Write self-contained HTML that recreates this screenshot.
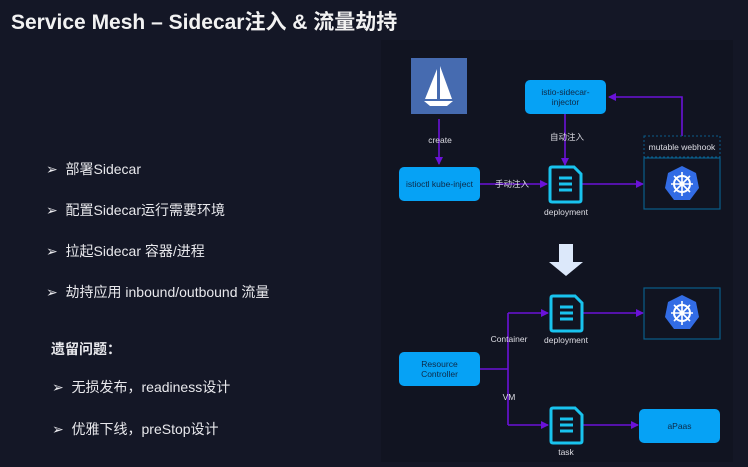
<!DOCTYPE html>
<html><head><meta charset="utf-8"><style>
html,body{margin:0;padding:0;}
body{width:748px;height:467px;background:#141726;position:relative;overflow:hidden;font-family:"Liberation Sans","Noto Sans CJK SC",sans-serif;color:#e8e8ec;}
.t{position:absolute;white-space:nowrap;}
.l{font-size:14px;}
</style></head><body>
<div class="t" style="left:11px;top:6px;font-size:21px;font-weight:bold;color:#f2f2f2;">Service Mesh – Sidecar注入 &amp; 流量劫持</div>
<div style="position:absolute;left:381px;top:40px;width:352px;height:422px;background:#111421;"></div>
<div class="t l" style="left:46px;top:159px;">➢&nbsp; 部署Sidecar</div>
<div class="t l" style="left:46px;top:200px;">➢&nbsp; 配置Sidecar运行需要环境</div>
<div class="t l" style="left:46px;top:241px;">➢&nbsp; 拉起Sidecar 容器/进程</div>
<div class="t l" style="left:46px;top:282px;">➢&nbsp; 劫持应用 inbound/outbound 流量</div>
<div class="t l" style="left:51px;top:339px;font-weight:bold;">遗留问题：</div>
<div class="t l" style="left:52px;top:377px;">➢&nbsp; 无损发布，readiness设计</div>
<div class="t l" style="left:52px;top:419px;">➢&nbsp; 优雅下线，preStop设计</div>
<svg style="position:absolute;left:0;top:0" width="748" height="467" font-family="Liberation Sans, Noto Sans CJK SC, sans-serif">
<defs>
<marker id="a" markerWidth="8" markerHeight="8" refX="7" refY="4" orient="auto" markerUnits="userSpaceOnUse"><path d="M0,0 L8,4 L0,8 Z" fill="#6a12d8"/></marker>
<g id="doc"><path d="M2,0 H24 L31,7 V33 Q31,35 29,35 H2 Q0,35 0,33 V2 Q0,0 2,0 Z" fill="#111421" stroke="#19c3ee" stroke-width="3"/><path d="M9,11 H22 M9,17 H22 M9,23 H22" stroke="#19c3ee" stroke-width="3"/></g>
<g id="k8s"><polygon points="0,-18 14,-11 17,4 8,16 -8,16 -17,4 -14,-11" fill="#326ce5"/><circle r="8" fill="none" stroke="#fff" stroke-width="2"/><circle r="2.5" fill="#fff"/><g stroke="#fff" stroke-width="1.6"><path d="M0,-12 V12 M-11,0 H11 M-8,-8 L8,8 M8,-8 L-8,8"/></g></g>
</defs>
<g stroke="#6a12d8" stroke-width="1.6" fill="none">
<path d="M439,119 V164" marker-end="url(#a)"/>
<path d="M565,114 V165" marker-end="url(#a)"/>
<path d="M480,184 H547" marker-end="url(#a)"/>
<path d="M582,184 H643" marker-end="url(#a)"/>
<path d="M682,136 V97 H609" marker-end="url(#a)"/>
<path d="M583,313 H643" marker-end="url(#a)"/>
<path d="M480,369 H508 M508,313 V425"/>
<path d="M508,313 H548" marker-end="url(#a)"/>
<path d="M508,425 H548" marker-end="url(#a)"/>
<path d="M583,425 H638" marker-end="url(#a)"/>
</g>
<rect x="411" y="58" width="56" height="56" fill="#466bb0"/>
<path d="M437,69 V99 L425,99 Z M440,66 L452,99 H440 Z" fill="#fff"/>
<path d="M424,101 H453 L447,106 H430 Z" fill="#fff"/>
<rect x="399" y="167" width="81" height="34" rx="5" fill="#06a2f5"/>
<rect x="525" y="80" width="81" height="34" rx="5" fill="#06a2f5"/>
<rect x="399" y="352" width="81" height="34" rx="5" fill="#06a2f5"/>
<rect x="639" y="409" width="81" height="34" rx="5" fill="#06a2f5"/>
<g font-size="8.5" fill="#0d2a48" text-anchor="middle">
<text x="439.5" y="187">istioctl kube-inject</text>
<text x="565.5" y="95">istio-sidecar-</text><text x="565.5" y="105">injector</text>
<text x="439.5" y="367">Resource</text><text x="439.5" y="377">Controller</text>
<text x="679.5" y="429">aPaas</text>
</g>
<g font-size="8.5" fill="#dddde4" text-anchor="middle">
<text x="440" y="143">create</text>
<text x="567" y="140">自动注入</text>
<text x="512" y="187">手动注入</text>
<text x="566" y="215">deployment</text>
<text x="566" y="343">deployment</text>
<text x="566" y="455">task</text>
<text x="509" y="342">Container</text>
<text x="509" y="400">VM</text>
<text x="682" y="150">mutable webhook</text>
</g>
<rect x="644" y="136" width="76" height="21" fill="none" stroke="#0a5d8a" stroke-width="1" stroke-dasharray="2,2"/>
<rect x="644" y="158" width="76" height="51" fill="none" stroke="#0a5d8a" stroke-width="1.2"/>
<rect x="644" y="288" width="76" height="51" fill="none" stroke="#0a5d8a" stroke-width="1.2"/>
<use href="#doc" x="550" y="167"/>
<use href="#doc" x="551" y="296"/>
<use href="#doc" x="551" y="408"/>
<use href="#k8s" x="682" y="184"/>
<use href="#k8s" x="682" y="313"/>
<path d="M559,244 H573 V262 H583 L566,276 L549,262 H559 Z" fill="#dce8fa"/>
</svg>
</body></html>
